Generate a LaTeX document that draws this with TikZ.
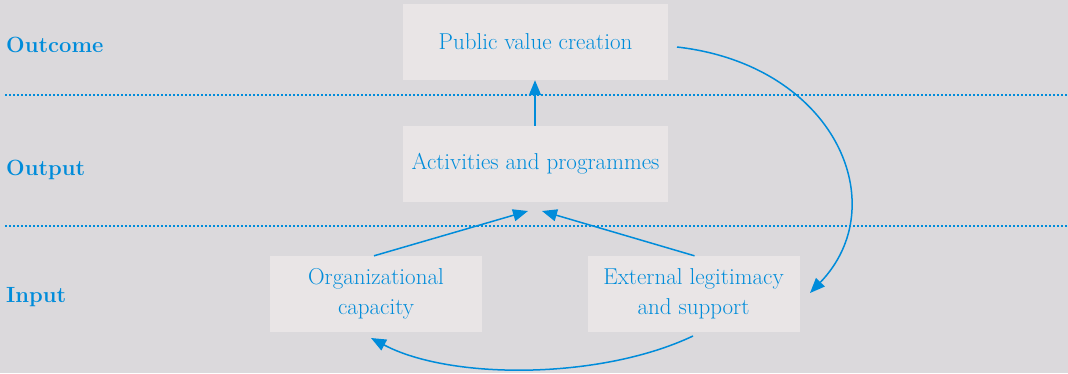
\documentclass[tikz,border=0pt]{standalone}
\usetikzlibrary{arrows.meta}
\definecolor{bg}{RGB}{219,217,220}
\definecolor{boxc}{RGB}{233,229,230}
\definecolor{blu}{RGB}{0,140,218}
\begin{document}
\begin{tikzpicture}[x=1pt,y=-1pt,
  box/.style={fill=boxc,text=blu,minimum width=265pt,minimum height=76pt,inner sep=0pt,align=center,font=\fontsize{23}{30}\selectfont},
  sbox/.style={box,minimum width=212pt},
  lab/.style={text=blu,anchor=west,inner sep=0pt,font=\bfseries\fontsize{22}{26}\selectfont},
  arr/.style={draw=blu,line width=1.5pt,-{Triangle[length=15pt,width=12pt]}},
  sep/.style={draw=blu,line width=1.6pt,dash pattern=on 1.6pt off 2.4pt}]
\fill[bg] (0,0) rectangle (1068,373);
\useasboundingbox (0,0) rectangle (1068,373);
\draw[sep] (5,95) -- (1068,95);
\draw[sep] (5,226) -- (1068,226);
\node[lab] (lo) at (6,45) {Outcome};
\node[lab] (lout) at (6,170) {Output};
\node[lab] (lin) at (6,297) {Input};
\node[box] (pv) at (535.5,42) {Public value creation};
\node[box] (ap) at (535.5,164) {Activities and programmes};
\node[sbox] (oc) at (376,294) {Organizational\\capacity};
\node[sbox] (el) at (693.5,294) {External legitimacy\\and support};
\coordinate (apl) at (528,211);
\coordinate (apr) at (542,211);
\coordinate (pvr) at (677,47);
\coordinate (elt) at (810,293);
\coordinate (elb) at (693,336);
\coordinate (ocb) at (371,338);
\draw[arr] ([xshift=-0.5pt]ap.north) -- ([xshift=-0.5pt]pv.south);
\draw[arr] ([xshift=-2pt]oc.north) -- (apl);
\draw[arr] ([xshift=1pt]el.north) -- (apr);
\draw[arr] (pvr) .. controls (835,65) and (895,205) .. (elt);
\draw[arr] (elb) .. controls (600,380) and (450,380) .. (ocb);
\end{tikzpicture}
\end{document}
